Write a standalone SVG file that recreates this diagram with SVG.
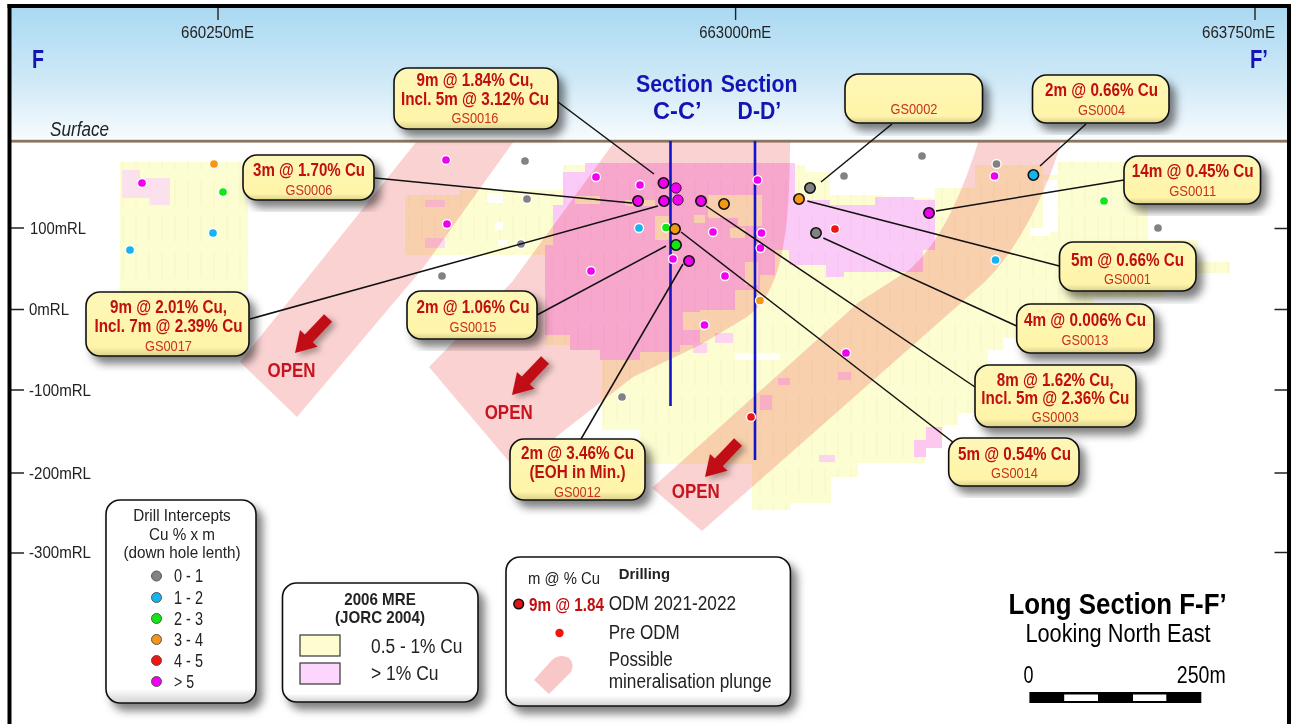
<svg xmlns="http://www.w3.org/2000/svg" width="1294" height="724" viewBox="0 0 1294 724">
<style>
text{font-family:"Liberation Sans",Arial,sans-serif;fill:#222}
.tick{stroke:#222;stroke-width:1.4;fill:none}
.ax{font-size:17px}
.mc{text-anchor:middle}
.cb{font-size:17.5px;font-weight:700;fill:#c00f0f;text-anchor:middle}
.cg{font-size:15.5px;fill:#c8321e;text-anchor:middle}
.bx{stroke:#111;stroke-width:1.6;filter:url(#sh)}
.cl{fill:url(#cg)}
.lg{fill:url(#lgf)}
.blue{font-weight:700;fill:#1414b4}
.open{font-size:20.5px;font-weight:700;fill:#c8141e;text-anchor:middle}
.conn line{stroke:#111;stroke-width:1.5}
.sd{stroke:#fff;stroke-width:1.3}
.bd{stroke:#111;stroke-width:1.6}
.ld{stroke:#555;stroke-width:1}
.m{fill:#f000f0}.b{fill:#14b4f0}.g{fill:#14e614}.o{fill:#f59614}.r{fill:#f01414}.k{fill:#828282}
.band{fill:#fbd2d2;mix-blend-mode:multiply}
.lt{font-size:20px}
</style>
<defs>
<linearGradient id="sky" x1="0" y1="0" x2="0" y2="1"><stop offset="0" stop-color="#a9d9f2"/><stop offset="0.55" stop-color="#cfe9f7"/><stop offset="1" stop-color="#f8fcfe"/></linearGradient>
<linearGradient id="cg" x1="0" y1="0" x2="0" y2="1"><stop offset="0" stop-color="#fdf7b8"/><stop offset="0.86" stop-color="#fff4a8"/><stop offset="1" stop-color="#dcd18c"/></linearGradient>
<linearGradient id="lgf" x1="0" y1="0" x2="0" y2="1"><stop offset="0" stop-color="#fff"/><stop offset="0.93" stop-color="#fff"/><stop offset="1" stop-color="#d2d2d2"/></linearGradient>
<filter id="sh" x="-10%" y="-10%" width="125%" height="135%"><feDropShadow dx="6" dy="7" stdDeviation="4" flood-color="#000" flood-opacity="0.5"/></filter>
<filter id="sa" x="-30%" y="-30%" width="170%" height="170%"><feDropShadow dx="4" dy="3" stdDeviation="3" flood-color="#000" flood-opacity="0.35"/></filter>
<pattern id="yp" width="13" height="36" patternUnits="userSpaceOnUse"><rect width="13" height="36" fill="#fdfdd2"/><line x1="6" y1="0" x2="6" y2="26" stroke="#f5f3c6" stroke-width="0.8"/></pattern>
<pattern id="vp" width="13" height="36" patternUnits="userSpaceOnUse"><rect width="13" height="36" fill="#fbcbf8"/><line x1="6" y1="0" x2="6" y2="26" stroke="#f7bdf2" stroke-width="0.8"/></pattern>
<polygon id="arrow" points="0,0 22.6,-6.3 17.8,-10.8 37.1,-31.2 29.1,-38.8 9.8,-18.4 5,-22.9" fill="#c00f18" filter="url(#sa)"/>
</defs>

<rect width="1294" height="724" fill="#fff"/>
<rect x="11" y="7" width="1277" height="134" fill="url(#sky)"/>

<g id="mineralisation">
<path fill="url(#yp)" d="M120,162 H248 V292 H120 Z"/>
<path fill="#fbe0ee" d="M122,170 H140 V178 H170 V205 H150 V198 H122 Z"/>
<path fill="url(#yp)" d="M405,195 H460 V190 H563 V165 H805 V172 H830 V195 H885 V198 H935 V188 H975 V165 H1043 V175 H1058 V162 H1148 V240 H1198 V262 H1230 V273 H1193 V285 H1163 V297 H1093 V320 H1038 V338 H1003 V350 H988 V372 H976 V413 H958 V425 H943 V440 H925 V463 H858 V477 H831 V503 H790 V510 H752 V464 H640 V430 H602 V345 H545 V255 H405 Z"/>
<rect x="1043" y="180" width="15" height="52" fill="#fff"/>
<rect x="1030" y="228" width="20" height="8" fill="#fff"/>
<path fill="#fffffa" d="M487,193 H503 V203 H487 Z M495,222 H503 V230 H495 Z M498,240 H508 V246 H498 Z M735,353 H780 V360 H735 Z"/>
<path fill="#fcdcf0" d="M425,200 H445 V207 H425 Z M425,238 H445 V248 H425 Z"/>
<path fill="url(#vp)" d="M563,172 H585 V163 H795 V250 H775 V275 H760 V290 H735 V310 H700 V345 H680 V352 H640 V360 H600 V350 H570 V335 H545 V245 H553 V205 H563 Z"/>
<path fill="url(#vp)" d="M789,200 H830 V205 H875 V197 H914 V200 H935 V250 H923 V272 H844 V277 H826 V265 H789 Z"/>
<path fill="#fcc8f0" d="M914,440 H926 V427 H942 V448 H926 V457 H914 Z"/>
<path fill="#fcd4f0" d="M778,378 H790 V385 H778 Z M819,455 H835 V462 H819 Z M760,395 H772 V410 H760 Z M838,372 H851 V380 H838 Z M715,333 H733 V343 H715 Z M693,343 H707 V353 H693 Z"/>
<path fill="url(#yp)" d="M708,195 H762 V226 H738 V218 H708 Z M655,216 H672 V240 H655 Z M625,200 H655 V206 H625 Z M575,196 H600 V204 H575 Z M694,215 H705 V223 H694 Z M730,228 H745 V238 H730 Z M683,312 H733 V330 H683 Z M745,262 H758 V285 H745 Z"/>
</g>

<g id="plunge-bands">
<path class="band" d="M417,141 L514,141 L423,268 L297,417 L240,362 Z"/>
<path class="band" d="M615,141 L512,282 L429,367 L512,465 L552,440 L633,377 L700,345 L747,317 C775,295 790,260 790,141 Z"/>
<path class="band" d="M978.6,141 C963,190 943,240 909,270 L859,302 L652,488 L702,531 L983.6,283 C1018,250 1048,190 1061.3,141 Z"/>
</g>

<rect x="11" y="139.8" width="1277" height="2.8" fill="#8c7560"/>

<g id="axes">
<path class="tick" d="M218,7V20 M735.6,7V20 M1255,7V20 M11,228H24 M11,309.5H24 M11,390H24 M11,473H24 M11,553H24 M1274.5,228.5H1288 M1274.5,309.5H1288 M1274.5,390H1288 M1274.5,473H1288 M1274.5,552.5H1288"/>
<text class="ax mc" x="217.5" y="38" textLength="73" lengthAdjust="spacingAndGlyphs">660250mE</text>
<text class="ax mc" x="735.3" y="38" textLength="72" lengthAdjust="spacingAndGlyphs">663000mE</text>
<text class="ax mc" x="1238.5" y="38" textLength="73" lengthAdjust="spacingAndGlyphs">663750mE</text>
<text class="ax" x="30" y="234" textLength="56" lengthAdjust="spacingAndGlyphs">100mRL</text>
<text class="ax" x="29" y="315" textLength="40" lengthAdjust="spacingAndGlyphs">0mRL</text>
<text class="ax" x="29" y="396" textLength="62" lengthAdjust="spacingAndGlyphs">-100mRL</text>
<text class="ax" x="29" y="479" textLength="62" lengthAdjust="spacingAndGlyphs">-200mRL</text>
<text class="ax" x="29" y="558" textLength="62" lengthAdjust="spacingAndGlyphs">-300mRL</text>
<text class="blue" x="32" y="68" font-size="26" textLength="12" lengthAdjust="spacingAndGlyphs">F</text>
<text class="blue" x="1250" y="68" font-size="26" textLength="18" lengthAdjust="spacingAndGlyphs">F’</text>
<text x="50" y="136" font-size="20" font-style="italic" textLength="59" lengthAdjust="spacingAndGlyphs">Surface</text>
</g>

<g id="section-lines">
<line x1="670.5" y1="141" x2="670.5" y2="406" stroke="#1414c8" stroke-width="2.6"/>
<line x1="755" y1="141" x2="755" y2="460" stroke="#1414c8" stroke-width="2.6"/>
<text class="blue" x="636" y="91.5" font-size="24" textLength="77" lengthAdjust="spacingAndGlyphs">Section</text>
<text class="blue" x="720.7" y="91.5" font-size="24" textLength="76.7" lengthAdjust="spacingAndGlyphs">Section</text>
<text class="blue" x="653" y="119" font-size="24" textLength="48.5" lengthAdjust="spacingAndGlyphs">C-C’</text>
<text class="blue" x="737.6" y="119" font-size="24" textLength="43.5" lengthAdjust="spacingAndGlyphs">D-D’</text>
</g>

<g id="drill-holes">
<g class="sd">
<circle class="m" cx="142" cy="183" r="4.5"/><circle class="o" cx="214" cy="164" r="4.5"/><circle class="g" cx="223" cy="192" r="4.5"/><circle class="b" cx="213" cy="233" r="4.5"/><circle class="b" cx="130" cy="250" r="4.5"/>
<circle class="m" cx="446" cy="160" r="4.5"/><circle class="k" cx="525" cy="161" r="4.5"/><circle class="k" cx="527" cy="199" r="4.5"/><circle class="m" cx="447" cy="224" r="4.5"/><circle class="k" cx="521" cy="244" r="4.5"/><circle class="k" cx="442" cy="276" r="4.5"/>
<circle class="m" cx="596" cy="177" r="4.5"/><circle class="m" cx="640" cy="185" r="4.5"/><circle class="b" cx="639" cy="228" r="4.5"/><circle class="m" cx="591" cy="271" r="4.5"/><circle class="g" cx="666" cy="227.5" r="4.5"/><circle class="m" cx="673" cy="259" r="4.5"/><circle class="m" cx="713" cy="232" r="4.5"/><circle class="m" cx="725" cy="276" r="4.5"/>
<circle class="m" cx="757.5" cy="180" r="4.5"/><circle class="m" cx="761.5" cy="233" r="4.5"/><circle class="m" cx="760.5" cy="248" r="4.5"/><circle class="o" cx="760" cy="300.5" r="4.5"/><circle class="m" cx="704.5" cy="325" r="4.5"/><circle class="r" cx="835" cy="229" r="4.5"/><circle class="k" cx="844" cy="176" r="4.5"/><circle class="k" cx="922" cy="156" r="4.5"/><circle class="k" cx="996.5" cy="164" r="4.5"/><circle class="m" cx="994.5" cy="176" r="4.5"/><circle class="g" cx="1104" cy="201" r="4.5"/><circle class="k" cx="1158" cy="228" r="4.5"/><circle class="b" cx="995.5" cy="260" r="4.5"/><circle class="m" cx="846" cy="353" r="4.5"/><circle class="r" cx="751" cy="417" r="4.5"/><circle class="k" cx="622" cy="397" r="4.5"/>
</g>
</g>

<g id="connectors" class="conn">
<line x1="558" y1="102" x2="654" y2="174"/>
<line x1="375" y1="178" x2="632" y2="203"/>
<line x1="250" y1="319" x2="658" y2="206"/>
<line x1="537" y1="315" x2="666" y2="246"/>
<line x1="581" y1="439" x2="683" y2="264"/>
<line x1="892" y1="124" x2="821" y2="182"/>
<line x1="1086" y1="124" x2="1040" y2="166"/>
<line x1="1124" y1="180" x2="936" y2="211"/>
<line x1="1059.3" y1="266" x2="807.3" y2="201"/>
<line x1="1016.7" y1="326" x2="823.3" y2="238"/>
<line x1="975" y1="387" x2="706" y2="206"/>
<line x1="952.7" y1="442" x2="681" y2="232"/>
</g>

<g id="collars" class="bd">
<circle class="m" cx="663.5" cy="183" r="5.2"/><circle class="m" cx="676" cy="188" r="5.2" stroke-width="0.8"/><circle class="m" cx="638" cy="201" r="5.2"/><circle class="m" cx="664" cy="201" r="5.2"/><circle class="m" cx="678" cy="200" r="5.2" stroke-width="0.8"/><circle class="m" cx="701" cy="201" r="5.2"/><circle class="o" cx="724" cy="204" r="5.2"/><circle class="o" cx="675" cy="229" r="5.2"/><circle class="g" cx="676" cy="245" r="5.2"/><circle class="m" cx="689" cy="261" r="5.2"/><circle class="k" cx="810" cy="188" r="5.2"/><circle class="o" cx="799" cy="199" r="5.2"/><circle class="k" cx="816" cy="233" r="5.2"/><circle class="m" cx="929" cy="213" r="5.2"/><circle class="b" cx="1033.4" cy="175" r="5.2"/>
</g>

<g id="open-arrows">
<use href="#arrow" x="295" y="353"/>
<use href="#arrow" x="512" y="395"/>
<use href="#arrow" x="705" y="477"/>
<text class="open" x="291.5" y="377" textLength="48" lengthAdjust="spacingAndGlyphs">OPEN</text>
<text class="open" x="508.7" y="419" textLength="48" lengthAdjust="spacingAndGlyphs">OPEN</text>
<text class="open" x="695.8" y="498" textLength="48" lengthAdjust="spacingAndGlyphs">OPEN</text>
</g>

<g id="GS0016"><rect class="bx cl" x="394" y="68" width="164" height="61" rx="14"/><text class="cb" x="475" y="86" textLength="117" lengthAdjust="spacingAndGlyphs">9m @ 1.84% Cu,</text><text class="cb" x="475" y="105" textLength="148" lengthAdjust="spacingAndGlyphs">Incl. 5m @ 3.12% Cu</text><text class="cg" x="475" y="123" textLength="47" lengthAdjust="spacingAndGlyphs">GS0016</text></g>
<g id="GS0006"><rect class="bx cl" x="243" y="155" width="131" height="45" rx="14"/><text class="cb" x="309" y="176" textLength="112" lengthAdjust="spacingAndGlyphs">3m @ 1.70% Cu</text><text class="cg" x="309" y="195" textLength="47" lengthAdjust="spacingAndGlyphs">GS0006</text></g>
<g id="GS0017"><rect class="bx cl" x="86" y="292" width="163" height="64" rx="14"/><text class="cb" x="168.5" y="313" textLength="117" lengthAdjust="spacingAndGlyphs">9m @ 2.01% Cu,</text><text class="cb" x="168.5" y="332" textLength="148" lengthAdjust="spacingAndGlyphs">Incl. 7m @ 2.39% Cu</text><text class="cg" x="168.5" y="351" textLength="47" lengthAdjust="spacingAndGlyphs">GS0017</text></g>
<g id="GS0015"><rect class="bx cl" x="407" y="291" width="130" height="48" rx="14"/><text class="cb" x="473" y="313" textLength="113" lengthAdjust="spacingAndGlyphs">2m @ 1.06% Cu</text><text class="cg" x="473" y="332" textLength="47" lengthAdjust="spacingAndGlyphs">GS0015</text></g>
<g id="GS0012"><rect class="bx cl" x="510" y="439" width="135" height="61" rx="14"/><text class="cb" x="577.5" y="459" textLength="113" lengthAdjust="spacingAndGlyphs">2m @ 3.46% Cu</text><text class="cb" x="577.5" y="478" textLength="96" lengthAdjust="spacingAndGlyphs">(EOH in Min.)</text><text class="cg" x="577.5" y="497" textLength="47" lengthAdjust="spacingAndGlyphs">GS0012</text></g>
<g id="GS0002"><rect class="bx cl" x="845" y="74" width="137.5" height="49" rx="14"/><text class="cg" x="914" y="114" textLength="47" lengthAdjust="spacingAndGlyphs">GS0002</text></g>
<g id="GS0004"><rect class="bx cl" x="1032.5" y="75" width="136.5" height="48" rx="14"/><text class="cb" x="1101.6" y="96" textLength="113" lengthAdjust="spacingAndGlyphs">2m @ 0.66% Cu</text><text class="cg" x="1101.6" y="115" textLength="47" lengthAdjust="spacingAndGlyphs">GS0004</text></g>
<g id="GS0011"><rect class="bx cl" x="1124" y="156" width="136.5" height="48" rx="14"/><text class="cb" x="1192.7" y="177" textLength="122" lengthAdjust="spacingAndGlyphs">14m @ 0.45% Cu</text><text class="cg" x="1192.7" y="196" textLength="47" lengthAdjust="spacingAndGlyphs">GS0011</text></g>
<g id="GS0001"><rect class="bx cl" x="1059.5" y="242" width="136.5" height="49" rx="14"/><text class="cb" x="1127.5" y="265.7" textLength="113" lengthAdjust="spacingAndGlyphs">5m @ 0.66% Cu</text><text class="cg" x="1127.5" y="283.5" textLength="47" lengthAdjust="spacingAndGlyphs">GS0001</text></g>
<g id="GS0013"><rect class="bx cl" x="1016.7" y="304" width="137.3" height="49" rx="14"/><text class="cb" x="1085" y="326" textLength="122" lengthAdjust="spacingAndGlyphs">4m @ 0.006% Cu</text><text class="cg" x="1085" y="345" textLength="47" lengthAdjust="spacingAndGlyphs">GS0013</text></g>
<g id="GS0003"><rect class="bx cl" x="975" y="365" width="161" height="62" rx="14"/><text class="cb" x="1055.3" y="386" textLength="117" lengthAdjust="spacingAndGlyphs">8m @ 1.62% Cu,</text><text class="cb" x="1055.3" y="404" textLength="148" lengthAdjust="spacingAndGlyphs">Incl. 5m @ 2.36% Cu</text><text class="cg" x="1055.3" y="422" textLength="47" lengthAdjust="spacingAndGlyphs">GS0003</text></g>
<g id="GS0014"><rect class="bx cl" x="948.7" y="438" width="130.3" height="48" rx="14"/><text class="cb" x="1014.5" y="460" textLength="113" lengthAdjust="spacingAndGlyphs">5m @ 0.54% Cu</text><text class="cg" x="1014.5" y="478" textLength="47" lengthAdjust="spacingAndGlyphs">GS0014</text></g>

<g id="legend-intercepts">
<rect class="bx lg" x="106" y="500" width="150" height="203" rx="14"/>
<text class="mc" x="182" y="521" font-size="17" textLength="97.5" lengthAdjust="spacingAndGlyphs">Drill Intercepts</text>
<text class="mc" x="182" y="540" font-size="17" textLength="66" lengthAdjust="spacingAndGlyphs">Cu % x m</text>
<text class="mc" x="182" y="558" font-size="17" textLength="117" lengthAdjust="spacingAndGlyphs">(down hole lenth)</text>
<g class="ld"><circle class="k" cx="156.5" cy="576" r="5"/><circle class="b" cx="156.5" cy="597.5" r="5"/><circle class="g" cx="156.5" cy="618.5" r="5"/><circle class="o" cx="156.5" cy="639.5" r="5"/><circle class="r" cx="156.5" cy="660.5" r="5"/><circle class="m" cx="156.5" cy="681.5" r="5"/></g>
<g font-size="19">
<text x="174" y="582" textLength="29" lengthAdjust="spacingAndGlyphs">0 - 1</text>
<text x="174" y="603.5" textLength="29" lengthAdjust="spacingAndGlyphs">1 - 2</text>
<text x="174" y="624.5" textLength="29" lengthAdjust="spacingAndGlyphs">2 - 3</text>
<text x="174" y="645.5" textLength="29" lengthAdjust="spacingAndGlyphs">3 - 4</text>
<text x="174" y="666.5" textLength="29" lengthAdjust="spacingAndGlyphs">4 - 5</text>
<text x="174" y="687.5" textLength="20" lengthAdjust="spacingAndGlyphs">&gt; 5</text>
</g>
</g>

<g id="legend-mre">
<rect class="bx lg" x="282.5" y="583" width="195.5" height="119" rx="14"/>
<text class="mc" x="380" y="605" font-size="17" font-weight="700" textLength="71.5" lengthAdjust="spacingAndGlyphs">2006 MRE</text>
<text class="mc" x="380" y="623" font-size="17" font-weight="700" textLength="90" lengthAdjust="spacingAndGlyphs">(JORC 2004)</text>
<rect x="300" y="635" width="40" height="21" fill="#fdfdd0" stroke="#444" stroke-width="1.3"/>
<rect x="300" y="663" width="40" height="21" fill="#fcd6fc" stroke="#444" stroke-width="1.3"/>
<text class="lt" x="371" y="653" textLength="91.5" lengthAdjust="spacingAndGlyphs">0.5 - 1% Cu</text>
<text class="lt" x="371" y="680" textLength="67.5" lengthAdjust="spacingAndGlyphs">&gt; 1% Cu</text>
</g>

<g id="legend-drilling">
<rect class="bx lg" x="506" y="557" width="284.4" height="149" rx="14"/>
<text x="528" y="584" font-size="17" textLength="72" lengthAdjust="spacingAndGlyphs">m @ % Cu</text>
<text x="618.7" y="579" font-size="15.5" font-weight="700" textLength="51.3" lengthAdjust="spacingAndGlyphs">Drilling</text>
<circle cx="518.7" cy="604" r="4.8" fill="#e01414" stroke="#111" stroke-width="1.6"/>
<text x="529" y="611" font-size="17.5" font-weight="700" style="fill:#c00f0f" textLength="75" lengthAdjust="spacingAndGlyphs">9m @ 1.84</text>
<text class="lt" x="608.7" y="610" textLength="127.4" lengthAdjust="spacingAndGlyphs">ODM 2021-2022</text>
<circle cx="559.5" cy="633" r="4.2" fill="#f01414"/>
<text class="lt" x="608.7" y="639" textLength="71" lengthAdjust="spacingAndGlyphs">Pre ODM</text>
<path d="M534,680 L552,660 Q560,653 569,658 Q575,664 571,672 L549,694 Z" fill="#f8c8c8"/>
<text class="lt" x="608.7" y="666" textLength="64" lengthAdjust="spacingAndGlyphs">Possible</text>
<text class="lt" x="608.7" y="688" textLength="162.8" lengthAdjust="spacingAndGlyphs">mineralisation plunge</text>
</g>

<g id="title">
<text x="1008.5" y="614" font-size="30" font-weight="700" style="fill:#000" textLength="218.2" lengthAdjust="spacingAndGlyphs">Long Section F-F’</text>
<text x="1025.4" y="642" font-size="26" style="fill:#000" textLength="185.2" lengthAdjust="spacingAndGlyphs">Looking North East</text>
</g>

<g id="scale-bar">
<text x="1023.4" y="682.5" font-size="23" style="fill:#000" textLength="10" lengthAdjust="spacingAndGlyphs">0</text>
<text x="1176.8" y="682.5" font-size="23" style="fill:#000" textLength="48.9" lengthAdjust="spacingAndGlyphs">250m</text>
<rect x="1029.4" y="692" width="171.9" height="11" fill="#000"/>
<rect x="1064.2" y="694.5" width="33.8" height="6.5" fill="#fff"/>
<rect x="1133" y="694.5" width="33.3" height="6.5" fill="#fff"/>
</g>

<g id="frame" fill="#000">
<rect x="7.5" y="4" width="4" height="720"/>
<rect x="7.5" y="4" width="1283.5" height="4"/>
<rect x="1287" y="4" width="4" height="720"/>
</g>
</svg>
